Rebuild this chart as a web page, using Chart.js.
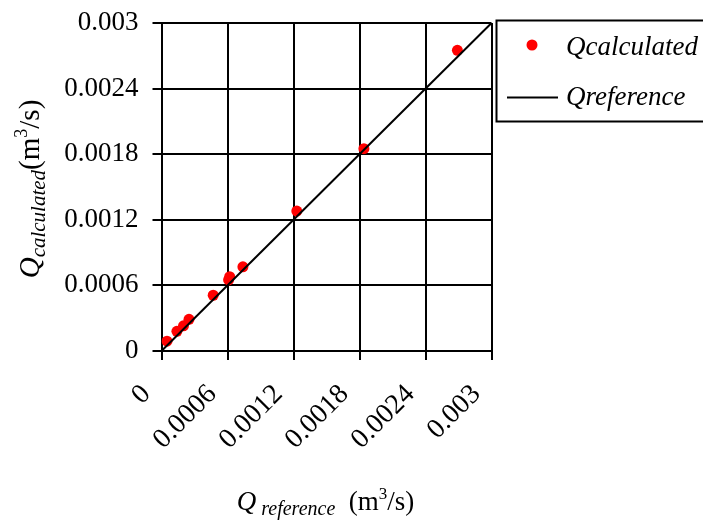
<!DOCTYPE html>
<html>
<head>
<meta charset="utf-8">
<script src="https://cdn.jsdelivr.net/npm/chart.js@4/dist/chart.umd.min.js"></script>
<style>
  html, body { margin: 0; padding: 0; background: #fff; }
  #wrap { width: 703px; height: 525px; position: relative; }
</style>
</head>
<body>
<div id="wrap"><canvas id="c" width="703" height="525"></canvas></div>
<script>
// Measured discharge pairs (m^3/s)
const qReference  = [0.00005, 0.00014, 0.00020, 0.00025, 0.00047, 0.00061, 0.00062, 0.00074, 0.00123, 0.00184, 0.00269];
const qCalculated = [0.00009, 0.00018, 0.00023, 0.00029, 0.00051, 0.00065, 0.00068, 0.00077, 0.00128, 0.00185, 0.00275];

// 1:1 reference line end points
const lineX = [0, 0.003];
const lineY = [0, 0.003];

// Axis ticks
const tickValues = [0, 0.0006, 0.0012, 0.0018, 0.0024, 0.003];
const tickLabels = ['0', '0.0006', '0.0012', '0.0018', '0.0024', '0.003'];

const seriesNames = ['Qcalculated', 'Qreference'];

const SERIF = "'Liberation Serif', 'Times New Roman', serif";

function setTicks(scale) {
  scale.ticks = tickValues.map(v => ({ value: v }));
}

// Draws text made of runs with different fonts / baseline shifts, centred on (0,0)
function drawRuns(ctx, runs) {
  let total = 0;
  runs.forEach(r => { ctx.font = r.font; r.w = ctx.measureText(r.t).width; total += r.w; });
  let x = -total / 2;
  runs.forEach(r => {
    ctx.font = r.font;
    ctx.fillText(r.t, x, r.dy || 0);
    x += r.w;
  });
}

const titlesAndLegend = {
  id: 'titlesAndLegend',
  afterDraw(chart) {
    const ctx = chart.ctx;
    const area = chart.chartArea;
    ctx.save();
    ctx.fillStyle = '#000';
    ctx.textAlign = 'left';
    ctx.textBaseline = 'alphabetic';

    // x-axis title
    ctx.save();
    ctx.translate((area.left + area.right) / 2 - 1, 510);
    drawRuns(ctx, [
      { t: 'Q', font: 'italic 27px ' + SERIF },
      { t: ' reference', font: 'italic 20px ' + SERIF, dy: 5 },
      { t: '  (m', font: '27px ' + SERIF },
      { t: '3', font: '17px ' + SERIF, dy: -11 },
      { t: '/s)', font: '27px ' + SERIF }
    ]);
    ctx.restore();

    // y-axis title
    ctx.save();
    ctx.translate(39, 189);
    ctx.rotate(-Math.PI / 2);
    drawRuns(ctx, [
      { t: 'Q', font: 'italic 29px ' + SERIF },
      { t: 'calculated', font: 'italic 21px ' + SERIF, dy: 6 },
      { t: '(m', font: '29px ' + SERIF },
      { t: '3', font: '18px ' + SERIF, dy: -12 },
      { t: '/s)', font: '29px ' + SERIF }
    ]);
    ctx.restore();

    // legend
    const ds = chart.data.datasets;
    ctx.lineWidth = 2;
    ctx.strokeStyle = '#000';
    ctx.strokeRect(496.5, 20.5, 230, 101);

    ctx.beginPath();
    ctx.fillStyle = ds[0].backgroundColor;
    ctx.arc(532, 45, 5.5, 0, Math.PI * 2);
    ctx.fill();

    ctx.beginPath();
    ctx.strokeStyle = ds[1].borderColor;
    ctx.lineWidth = 2;
    ctx.moveTo(507, 97.5);
    ctx.lineTo(558, 97.5);
    ctx.stroke();

    ctx.fillStyle = '#000';
    ctx.font = 'italic 27px ' + SERIF;
    ctx.fillText(ds[0].label, 566, 55);
    ctx.fillText(ds[1].label, 566, 105);
    ctx.restore();
  }
};

const gridStyle = {
  color: '#000',
  lineWidth: 2,
  drawTicks: true,
  tickLength: 9,
  tickColor: '#000',
  tickWidth: 2
};

new Chart(document.getElementById('c'), {
  data: {
    datasets: [
      {
        type: 'scatter',
        label: seriesNames[0],
        data: qReference.map((x, i) => ({ x: x, y: qCalculated[i] })),
        backgroundColor: '#ff0000',
        borderColor: '#ff0000',
        pointRadius: 5.5,
        pointBorderWidth: 0,
        order: 1
      },
      {
        type: 'line',
        label: seriesNames[1],
        data: lineX.map((x, i) => ({ x: x, y: lineY[i] })),
        borderColor: '#000',
        borderWidth: 2,
        pointRadius: 0,
        fill: false,
        order: 0
      }
    ]
  },
  options: {
    responsive: false,
    animation: false,
    devicePixelRatio: 1,
    layout: { padding: { top: 23, right: 211.5, left: 0, bottom: 0 } },
    plugins: { legend: { display: false }, tooltip: { enabled: false } },
    scales: {
      x: {
        type: 'linear',
        min: 0, max: 0.003,
        afterBuildTicks: setTicks,
        afterFit(scale) {
          scale.height = 174;
          scale.paddingTop = 0; scale.paddingBottom = 0;
          scale.paddingLeft = 0; scale.paddingRight = 0;
        },
        grid: gridStyle,
        border: { display: true, color: '#000', width: 2 },
        ticks: {
          color: '#000',
          font: { family: SERIF, size: 28 },
          minRotation: 45, maxRotation: 45,
          padding: 18,
          labelOffset: -15,
          callback: (v, i) => tickLabels[i]
        }
      },
      y: {
        type: 'linear',
        min: 0, max: 0.003,
        afterBuildTicks: setTicks,
        afterFit(scale) {
          scale.width = 161.5;
          scale.paddingTop = 0; scale.paddingBottom = 0;
        },
        grid: gridStyle,
        border: { display: true, color: '#000', width: 2 },
        ticks: {
          color: '#000',
          font: { family: SERIF, size: 27 },
          padding: 14,
          callback: (v, i) => tickLabels[i]
        }
      }
    }
  },
  plugins: [titlesAndLegend]
});
</script>
</body>
</html>
